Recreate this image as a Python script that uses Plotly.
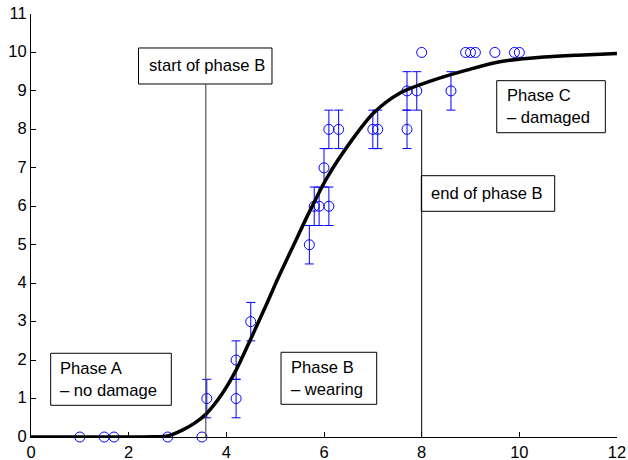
import plotly.graph_objects as go

# ---- data ----
zero_x = [1.0, 1.5, 1.7, 2.8, 3.5]
zero_y = [0, 0, 0, 0, 0]

err_x = [3.6, 4.2, 4.2, 4.5, 5.7, 5.8, 5.9, 6.1, 6.0, 6.1, 6.3, 7.0, 7.1, 7.7, 7.7, 7.9, 8.6]
err_y = [1, 1, 2, 3, 5, 6, 6, 6, 7, 8, 8, 8, 8, 8, 9, 9, 9]
err_e = [0.5] * len(err_x)

top_x = [8.0, 8.9, 9.0, 9.1, 9.5, 9.9, 10.0]
top_y = [10, 10, 10, 10, 10, 10, 10]

curve_x = [0, 1, 2, 2.5, 2.8, 3.1, 3.35, 3.6, 3.9, 4.2, 4.5, 4.83, 5.03, 5.37,
           5.71, 6.06, 6.57, 7.01, 7.55, 8.24, 8.92, 9.6, 10.5, 11.2, 12]
curve_y = [0, 0, 0, 0.005, 0.03, 0.18, 0.36, 0.62, 1.1, 1.74, 2.55, 3.47, 4.05, 4.97,
           5.88, 6.74, 7.72, 8.42, 8.94, 9.28, 9.54, 9.76, 9.88, 9.93, 9.97]

phase_start_x = 3.58
phase_end_x = 8.0

x_ticks = [0, 2, 4, 6, 8, 10, 12]
y_ticks = list(range(0, 12))

FONT = "Liberation Sans, Arial, sans-serif"
BLUE = "#0000ff"

fig = go.Figure()

marker = dict(symbol="circle-open", size=10, color=BLUE, line=dict(width=1, color=BLUE))

fig.add_trace(go.Scatter(x=zero_x, y=zero_y, mode="markers", marker=marker,
                         cliponaxis=False, showlegend=False))
fig.add_trace(go.Scatter(x=err_x, y=err_y, mode="markers", marker=marker,
                         error_y=dict(type="data", array=err_e, visible=True,
                                      color=BLUE, thickness=1, width=4.5),
                         cliponaxis=False, showlegend=False))
fig.add_trace(go.Scatter(x=top_x, y=top_y, mode="markers", marker=marker,
                         cliponaxis=False, showlegend=False))
fig.add_trace(go.Scatter(x=curve_x, y=curve_y, mode="lines",
                         line=dict(color="black", width=3.5, shape="spline", smoothing=0.8),
                         cliponaxis=False, showlegend=False))

# boxes (data coords)
boxes = [
    (2.201, 4.935, 9.180, 10.116),
    (7.993, 10.724, 5.869, 6.795),
    (0.403, 2.873, 0.824, 2.177),
    (5.120, 7.079, 0.850, 2.203),
    (9.537, 11.761, 7.913, 9.266),
]
shapes = []
for x0, x1, y0, y1 in boxes:
    shapes.append(dict(type="rect", xref="x", yref="y", x0=x0, x1=x1, y0=y0, y1=y1,
                       line=dict(color="black", width=1), fillcolor="white", layer="above"))
shapes.append(dict(type="line", xref="x", yref="y", x0=phase_start_x, x1=phase_start_x,
                   y0=0, y1=9.180, line=dict(color="#333333", width=1), layer="above"))
shapes.append(dict(type="line", xref="x", yref="y", x0=phase_end_x, x1=phase_end_x,
                   y0=0, y1=8.5, line=dict(color="black", width=1), layer="above"))

texts = [
    (2.402, 9.648, "start of phase B"),
    (8.17, 6.332, "end of phase B"),
    (0.580, 1.50, "Phase A<br>– no damage"),
    (5.304, 1.527, "Phase B<br>– wearing"),
    (9.727, 8.59, "Phase C<br>– damaged"),
]
annotations = []
for x, y, t in texts:
    annotations.append(dict(x=x, y=y, xref="x", yref="y", text=t, showarrow=False,
                            xanchor="left", yanchor="middle", align="left", borderpad=0,
                            font=dict(family=FONT, size=16.6, color="black")))

fig.update_layout(
    width=628, height=460,
    margin=dict(l=31, r=11, t=14, b=23, autoexpand=False),
    paper_bgcolor="white", plot_bgcolor="white",
    shapes=shapes, annotations=annotations,
    font=dict(family=FONT, size=16, color="black"),
    xaxis=dict(range=[0, 12], tickvals=x_ticks, ticks="inside", ticklen=5,
               tickcolor="black", showline=True, linecolor="black", linewidth=1,
               showgrid=False, zeroline=False, automargin=False,
               ticklabeloverflow="allow",
               tickfont=dict(family=FONT, size=16.5)),
    yaxis=dict(range=[0, 11], tickvals=y_ticks, ticks="inside", ticklen=5,
               tickcolor="black", showline=True, linecolor="black", linewidth=1,
               showgrid=False, zeroline=False, automargin=False,
               ticklabeloverflow="allow", ticklabelshift=-1,
               tickfont=dict(family=FONT, size=16.5)),
)

# remove the default 8px page margin so the 628x460 figure fills the window
fig.write_html("out.html",
               config={"displayModeBar": False},
               post_script="document.body.style.margin='0';document.body.style.overflow='hidden';")
